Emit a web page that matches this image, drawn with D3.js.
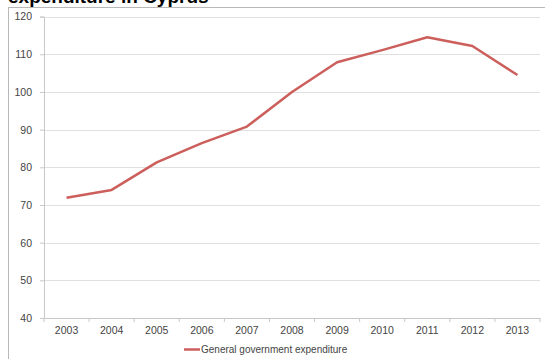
<!DOCTYPE html>
<html><head><meta charset="utf-8">
<script src="https://cdn.jsdelivr.net/npm/d3@7/dist/d3.min.js"></script>
<style>body{margin:0;background:#fff;}svg{display:block;font-family:"Liberation Sans",Arial,sans-serif;}</style>
</head><body>
<svg id="c" width="545" height="359"></svg>
<script>
const years = ["2003","2004","2005","2006","2007","2008","2009","2010","2011","2012","2013"];
const expenditure = [71.9, 74.0, 81.3, 86.4, 90.8, 100.0, 107.9, 111.1, 114.5, 112.2, 104.5];
const yTicks = [40,50,60,70,80,90,100,110,120];
const seriesName = "General government expenditure";
const title = "expenditure in Cyprus";

const svg = d3.select("#c");
const mLeft = 44, mRight = 540, mTop = 16.6, mBottom = 318;
const x = d3.scaleBand().domain(years).range([mLeft, mRight]);
const y = d3.scaleLinear().domain([40,120]).range([mBottom, mTop]);

// frame
svg.append("line").attr("x1",8.5).attr("x2",8.5).attr("y1",7.5).attr("y2",359).attr("stroke","#b8b8b8");
svg.append("line").attr("x1",8).attr("x2",545).attr("y1",7.5).attr("y2",7.5).attr("stroke","#b8b8b8");

// title
svg.append("text").attr("x",8).attr("y",3).attr("font-size",19).attr("font-weight","bold").attr("fill","#000").text(title);

// gridlines
svg.append("g").selectAll("line").data(yTicks.slice(1)).join("line")
  .attr("x1",mLeft).attr("x2",mRight).attr("y1",d=>Math.round(y(d))+0.5).attr("y2",d=>Math.round(y(d))+0.5)
  .attr("stroke","#e0e0e0");

// y axis
const ya = svg.append("g").attr("transform",`translate(${mLeft},0)`)
  .call(d3.axisLeft(y).tickValues(yTicks).tickSize(4).tickPadding(8));
ya.select(".domain").attr("stroke","#c8c8c8");
ya.selectAll(".tick line").attr("stroke","#c8c8c8");
ya.selectAll("text").attr("font-size",10.5).attr("fill","#444").attr("font-family","Liberation Sans, Arial, sans-serif");

// x axis
const xa = svg.append("g").attr("transform",`translate(0,${mBottom})`)
  .call(d3.axisBottom(x).tickSize(0).tickPadding(9));
xa.select(".domain").attr("stroke","#c8c8c8");
xa.selectAll("text").attr("font-size",10.5).attr("fill","#444").attr("font-family","Liberation Sans, Arial, sans-serif");
svg.append("g").selectAll("line").data(d3.range(years.length+1)).join("line")
  .attr("x1",i=>mLeft + i*x.step()).attr("x2",i=>mLeft + i*x.step())
  .attr("y1",mBottom).attr("y2",mBottom+4).attr("stroke","#c8c8c8");

// line
const line = d3.line().x((d,i)=>x(years[i])+x.bandwidth()/2).y(d=>y(d));
svg.append("path").datum(expenditure).attr("d",line).attr("fill","none")
  .attr("stroke","#cc5f5c").attr("stroke-width",2.5).attr("stroke-linejoin","round");

// legend
svg.append("line").attr("x1",184).attr("x2",200).attr("y1",349.5).attr("y2",349.5).attr("stroke","#cc5f5c").attr("stroke-width",2.5);
svg.append("text").attr("x",201).attr("y",353).attr("font-size",10).attr("fill","#444").text(seriesName);
</script>
</body></html>
